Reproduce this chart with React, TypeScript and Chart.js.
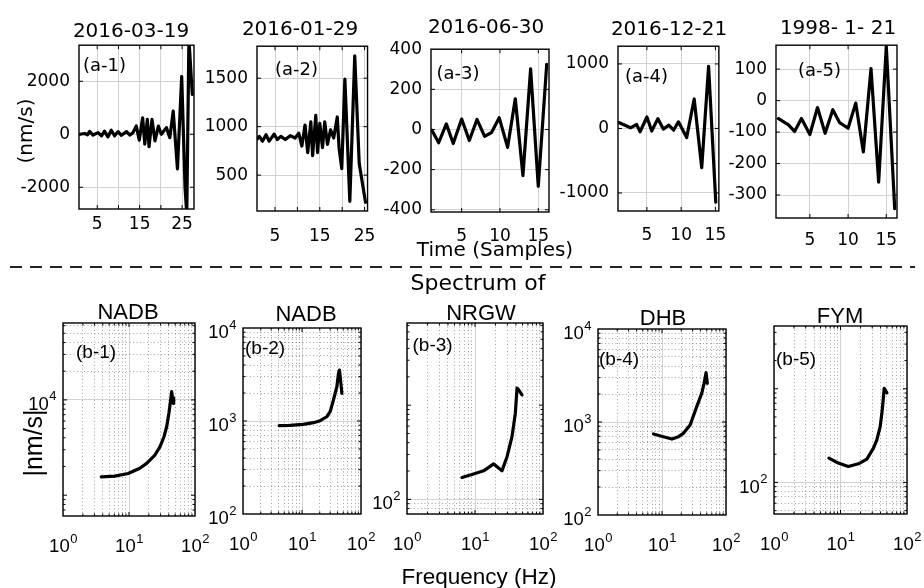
import React, { useEffect, useRef } from 'react';
import { Chart, registerables } from 'chart.js';

Chart.register(...registerables);

// ---------------- data: top row, time series (nm/s) ----------------
const a1Time = [1.0, 2.0, 2.7, 3.2, 4.0, 5.2, 6.0, 6.7, 7.5, 8.3, 9.1, 9.9, 10.7, 11.9, 12.7, 13.4, 14.2, 14.9, 15.7, 16.2, 16.8, 17.2, 17.9, 18.6, 19.4, 20.1, 21.3, 22.1, 22.9, 23.9, 24.9, 25.7, 26.1, 26.6, 27.4];
const a1Vel = [0, 30, -20, 110, -30, 60, -60, 120, -100, 150, -60, 100, -40, 100, -30, 60, 310, -220, 620, -370, 560, -470, 560, -250, 310, 0, 250, -130, 870, -1310, 2180, -2050, -3000, 3600, 1500];

const a2Time = [1.0, 1.5, 2.2, 3.0, 3.7, 4.8, 5.5, 6.3, 7.3, 8.4, 9.5, 10.3, 11.0, 11.7, 12.3, 13.0, 13.4, 14.1, 14.5, 15.0, 15.6, 16.1, 16.7, 17.4, 18.1, 18.9, 19.3, 19.9, 20.6, 21.7, 22.8, 23.8, 25.2];
const a2Vel = [873, 900, 850, 917, 850, 923, 867, 900, 867, 907, 883, 933, 800, 1017, 733, 1050, 700, 1117, 733, 1033, 783, 1050, 817, 967, 883, 1100, 783, 567, 1490, 230, 1730, 620, 220];

const a3Time = [1.1, 2.0, 3.0, 3.9, 5.0, 6.0, 7.0, 8.0, 8.9, 9.9, 11.0, 12.0, 13.0, 14.0, 15.0, 16.1];
const a3Vel = [-3, -66, 28, -70, 52, -55, 50, -34, -15, 59, -89, 153, -230, 302, -284, 325];

const a4Time = [0.9, 2.6, 3.5, 4.0, 5.0, 5.7, 6.6, 7.4, 8.2, 8.9, 9.6, 10.8, 11.9, 13.0, 14.0, 15.05];
const a4Vel = [91, 10, 61, -51, 178, -41, 152, -10, 51, -25, 102, -142, 457, -609, 964, -1142];

const a5Time = [0.9, 2.2, 3.0, 3.9, 5.0, 6.0, 7.0, 8.0, 8.9, 10.0, 11.0, 12.0, 13.0, 14.0, 15.0, 16.1];
const a5Vel = [-57, -77, -98, -57, -108, -22, -104, -29, -70, -88, -8, -163, 102, -259, 172, -343];

const topTitles = ['2016-03-19', '2016-01-29', '2016-06-30', '2016-12-21', '1998- 1- 21'];
const topTags = ['(a-1)', '(a-2)', '(a-3)', '(a-4)', '(a-5)'];

const xTicksLong = [5, 10, 15, 20, 25];
const xLabelsLong = [5, 15, 25];
const xTicksShort = [5, 10, 15];
const xLabelsShort = [5, 10, 15];

const a1YTicks = [-2000, 0, 2000];
const a2YTicks = [500, 1000, 1500];
const a3YTicks = [-400, -200, 0, 200, 400];
const a4YTicks = [-1000, 0, 1000];
const a5YTicks = [-300, -200, -100, 0, 100];

// ---------------- data: bottom row, spectra |nm/s| vs Hz ----------------
const b1Freq = [3.8, 6.1, 9.7, 14.6, 18.5, 24.7, 29.4, 33.8, 37.2, 40.3, 42.8, 44.3, 46.8, 47.5];
const b1Amp = [1560, 1585, 1690, 1920, 2160, 2640, 3220, 4080, 5230, 7300, 10000, 12200, 9200, 10500];

const b2Freq = [4.1, 6.25, 10.5, 15.6, 20.3, 26.3, 30, 34.1, 39, 41.6, 43.2, 45.6, 47.4];
const b2Amp = [890, 899, 921, 959, 1007, 1111, 1259, 1683, 2339, 3260, 3530, 2540, 1986];

const b3Freq = [6.44, 9.53, 13.4, 18.8, 21.1, 24.9, 29.6, 35, 39.2, 41.5, 43.8, 49.1];
const b3Amp = [171, 186, 201, 238, 222, 201, 284, 464, 822, 1517, 1455, 1288];

const b4Freq = [7.36, 10.5, 14.3, 18.1, 21.6, 27.5, 34.9, 41.8, 45.4, 48.8, 51.1];
const b4Amp = [743, 695, 656, 695, 755, 929, 1462, 2036, 2607, 3388, 2607];

const b5Freq = [6.7, 9.27, 13.1, 18.6, 24.9, 31.3, 35.2, 39.5, 41.9, 44.3, 45.4, 49.9];
const b5Amp = [182, 161, 148, 158, 177, 232, 284, 394, 547, 822, 1009, 906];

const bottomTitles = ['NADB', 'NADB', 'NRGW', 'DHB', 'FYM'];
const bottomTags = ['(b-1)', '(b-2)', '(b-3)', '(b-4)', '(b-5)'];

const freqLabels = [1, 10, 100];
const b1YLabels = [10000];
const b2YLabels = [100, 1000, 10000];
const b3YLabels = [100];
const b4YLabels = [100, 1000, 10000];
const b5YLabels = [100];

// ---------------- styling / layout ----------------
const TOP_FONT = '"DejaVu Sans", sans-serif';
const BOT_FONT = '"Liberation Sans", Arial, sans-serif';
const YW = 80;
const PT = 16;
const PR = 22;
const XH = 52;
const GRID_MAJOR = '#d2d2d2';
const GRID_MINOR = 'rgba(90,90,90,0.55)';

type Box = { l: number; t: number; r: number; b: number };

function isDecade(v: number) {
  const l = Math.log10(v);
  return Math.abs(l - Math.round(l)) < 1e-9;
}
function logTicks(min: number, max: number) {
  const out: number[] = [];
  for (let k = Math.floor(Math.log10(min)); k <= Math.ceil(Math.log10(max)); k++) {
    for (let m = 1; m <= 9; m++) {
      const v = Number((m * Math.pow(10, k)).toPrecision(12));
      if (v >= min * (1 - 1e-9) && v <= max * (1 + 1e-9)) out.push(v);
    }
  }
  return out;
}

const boxPlugin = {
  id: 'matlabBox',
  afterDatasetsDraw(chart: any) {
    const { ctx, chartArea: a } = chart;
    ctx.save();
    ctx.strokeStyle = '#000';
    ctx.lineWidth = 1;
    ['x', 'y'].forEach((id) => {
      const s = chart.scales[id];
      s.ticks.forEach((t: any) => {
        const p = s.getPixelForValue(t.value);
        const major = s.type !== 'logarithmic' || isDecade(t.value);
        const len = major ? 4 : 2.5;
        ctx.beginPath();
        if (id === 'x') {
          if (p <= a.left + 0.5 || p >= a.right - 0.5) return;
          ctx.moveTo(p, a.bottom); ctx.lineTo(p, a.bottom - len);
          ctx.moveTo(p, a.top); ctx.lineTo(p, a.top + len);
        } else {
          if (p <= a.top + 0.5 || p >= a.bottom - 0.5) return;
          ctx.moveTo(a.left, p); ctx.lineTo(a.left + len, p);
          ctx.moveTo(a.right, p); ctx.lineTo(a.right - len, p);
        }
        ctx.stroke();
      });
    });
    ctx.lineWidth = 1.4;
    ctx.strokeRect(a.left, a.top, a.right - a.left, a.bottom - a.top);
    ctx.restore();
  },
};

// Draws "10" with a raised exponent at the positions of the log scales' ticks.
const powLabelPlugin = {
  id: 'powLabels',
  afterDraw(chart: any, _args: any, opts: any) {
    const { ctx, chartArea: a } = chart;
    const big = '18.5px ' + BOT_FONT;
    const small = '13px ' + BOT_FONT;
    ctx.save();
    ctx.fillStyle = '#000';
    ctx.textBaseline = 'middle';
    ctx.textAlign = 'left';
    const draw = (v: number, cx: number, cy: number, anchor: 'center' | 'right') => {
      const exp = String(Math.round(Math.log10(v)));
      ctx.font = big;
      const w1 = ctx.measureText('10').width;
      ctx.font = small;
      const w2 = ctx.measureText(exp).width;
      const x0 = anchor === 'center' ? cx - (w1 + w2) / 2 : cx - (w1 + w2);
      ctx.font = big;
      ctx.fillText('10', x0, cy);
      ctx.font = small;
      ctx.fillText(exp, x0 + w1 + 0.5, cy - 8);
    };
    const sx = chart.scales.x;
    (opts.x || []).forEach((v: number) => draw(v, sx.getPixelForValue(v), a.bottom + 31, 'center'));
    const sy = chart.scales.y;
    (opts.y || []).forEach((v: number) => draw(v, a.left - 7, sy.getPixelForValue(v) + 5, 'right'));
    ctx.restore();
  },
};

function topConfig(xs: number[], ys: number[], xr: number[], yr: number[], xTicks: number[], xLabels: number[], yTicks: number[], xPad: number) {
  return {
    type: 'line',
    data: {
      datasets: [{
        data: xs.map((x, i) => ({ x, y: ys[i] })),
        borderColor: '#000',
        borderWidth: 3.2,
        pointRadius: 0,
        tension: 0,
        clip: 0,
        borderJoinStyle: 'round',
        borderCapStyle: 'round',
      }],
    },
    options: {
      responsive: false,
      animation: false,
      devicePixelRatio: 1,
      events: [],
      layout: { padding: { top: PT, right: PR, left: 0, bottom: 0 } },
      plugins: { legend: { display: false }, tooltip: { enabled: false } },
      scales: {
        x: {
          type: 'linear', bounds: 'data', min: xr[0], max: xr[1],
          afterBuildTicks: (s: any) => { s.ticks = xTicks.map((v) => ({ value: v })); },
          afterFit: (s: any) => { s.height = XH; },
          grid: { color: GRID_MAJOR, lineWidth: 1, drawTicks: false },
          border: { display: false },
          ticks: {
            autoSkip: false, maxRotation: 0, padding: xPad, color: '#000',
            font: { family: TOP_FONT, size: 17 },
            callback: (v: number) => (xLabels.includes(v) ? String(v) : ''),
          },
        },
        y: {
          type: 'linear', bounds: 'data', min: yr[0], max: yr[1],
          afterBuildTicks: (s: any) => { s.ticks = yTicks.map((v) => ({ value: v })); },
          afterFit: (s: any) => { s.width = YW; },
          grid: { color: GRID_MAJOR, lineWidth: 1, drawTicks: false },
          border: { display: false },
          ticks: {
            autoSkip: false, padding: 9, color: '#000',
            font: { family: TOP_FONT, size: 17 },
            callback: (v: number) => String(v),
          },
        },
      },
    },
    plugins: [boxPlugin],
  };
}

function bottomConfig(fs: number[], as: number[], yr: number[], yLabels: number[], yMajor: number[], yMinor: number[]) {
  const xTicks = logTicks(1, 100);
  const yTicks = logTicks(yr[0], yr[1]);
  const xColor = (ctx: any) => {
    const v = ctx.tick ? ctx.tick.value : null;
    if (v == null) return 'transparent';
    return isDecade(v) ? GRID_MAJOR : GRID_MINOR;
  };
  const yColor = (ctx: any) => {
    const v = ctx.tick ? ctx.tick.value : null;
    if (v == null) return 'transparent';
    if (isDecade(v)) return yMajor.includes(v) ? GRID_MAJOR : 'transparent';
    return v > yMinor[0] && v < yMinor[1] ? GRID_MINOR : 'transparent';
  };
  const dash = (ctx: any) => (ctx.tick && !isDecade(ctx.tick.value) ? [1, 2.5] : []);
  return {
    type: 'line',
    data: {
      datasets: [{
        data: fs.map((x, i) => ({ x, y: as[i] })),
        borderColor: '#000',
        borderWidth: 3.2,
        pointRadius: 0,
        tension: 0,
        clip: 0,
        borderJoinStyle: 'round',
        borderCapStyle: 'round',
      }],
    },
    options: {
      responsive: false,
      animation: false,
      devicePixelRatio: 1,
      events: [],
      layout: { padding: { top: PT, right: PR, left: 0, bottom: 0 } },
      plugins: {
        legend: { display: false },
        tooltip: { enabled: false },
        powLabels: { x: freqLabels, y: yLabels },
      },
      scales: {
        x: {
          type: 'logarithmic', bounds: 'data', min: 1, max: 100,
          afterBuildTicks: (s: any) => { s.ticks = xTicks.map((v) => ({ value: v })); },
          afterFit: (s: any) => { s.height = XH; },
          grid: { color: xColor, lineWidth: 1, drawTicks: false },
          border: { display: false, dash },
          ticks: { display: false, autoSkip: false },
        },
        y: {
          type: 'logarithmic', bounds: 'data', min: yr[0], max: yr[1],
          afterBuildTicks: (s: any) => { s.ticks = yTicks.map((v) => ({ value: v })); },
          afterFit: (s: any) => { s.width = YW; },
          grid: { color: yColor, lineWidth: 1, drawTicks: false },
          border: { display: false, dash },
          ticks: { display: false, autoSkip: false },
        },
      },
    },
    plugins: [boxPlugin, powLabelPlugin],
  };
}

function ChartCanvas({ box, make }: { box: Box; make: () => any }) {
  const ref = useRef<HTMLCanvasElement>(null);
  const w = box.r - box.l + YW + PR;
  const h = box.b - box.t + PT + XH;
  useEffect(() => {
    const chart = new Chart(ref.current as HTMLCanvasElement, make());
    return () => chart.destroy();
  }, []);
  return (
    <canvas
      ref={ref}
      width={w}
      height={h}
      style={{ position: 'absolute', left: box.l - YW, top: box.t - PT, width: w + 'px', height: h + 'px' }}
    />
  );
}

function Txt({ x, y, text, font, size, left = false, rotate = 0 }: { x: number; y: number; text: string; font: string; size: number; left?: boolean; rotate?: number }) {
  return (
    <div
      style={{
        position: 'absolute', left: x, top: y,
        transform: `translate(${left ? '0' : '-50%'}, -50%) rotate(${rotate}deg)`,
        fontFamily: font, fontSize: size, lineHeight: 1, whiteSpace: 'pre', color: '#000',
      }}
    >
      {text}
    </div>
  );
}

const topBoxes: Box[] = [
  { l: 79, t: 42, r: 194, b: 209 },
  { l: 257, t: 43, r: 369, b: 211 },
  { l: 431, t: 46, r: 549, b: 212 },
  { l: 618, t: 43, r: 719, b: 211 },
  { l: 776, t: 42, r: 897, b: 218 },
];
const bottomBoxes: Box[] = [
  { l: 63, t: 323, r: 195, b: 516 },
  { l: 243, t: 328, r: 361, b: 514 },
  { l: 407, t: 323, r: 543, b: 514 },
  { l: 598, t: 329, r: 726, b: 515 },
  { l: 774, t: 326, r: 907, b: 514 },
];

const topMakers = [
  () => topConfig(a1Time, a1Vel, [0.7, 27.8], [-2820, 3360], xTicksLong, xLabelsLong, a1YTicks, 5),
  () => topConfig(a2Time, a2Vel, [0.98, 25.66], [130, 1830], xTicksLong, xLabelsLong, a2YTicks, 15),
  () => topConfig(a3Time, a3Vel, [1.0, 16.4], [-411, 400], xTicksShort, xLabelsShort, a3YTicks, 14.5),
  () => topConfig(a4Time, a4Vel, [0.78, 15.5], [-1280, 1275], xTicksShort, xLabelsShort, a4YTicks, 14),
  () => topConfig(a5Time, a5Vel, [0.57, 16.4], [-373, 176], xTicksShort, xLabelsShort, a5YTicks, 12),
];
const bottomMakers = [
  () => bottomConfig(b1Freq, b1Amp, [605, 64100], b1YLabels, [10000], [10000, 1e9]),
  () => bottomConfig(b2Freq, b2Amp, [100, 10000], b2YLabels, [1000], [0, 1e9]),
  () => bottomConfig(b3Freq, b3Amp, [70, 7450], b3YLabels, [100], [0, 100]),
  () => bottomConfig(b4Freq, b4Amp, [100, 10000], b4YLabels, [1000], [0, 1e9]),
  () => bottomConfig(b5Freq, b5Amp, [46, 4680], b5YLabels, [100], [0, 100]),
];

const topTitlePos = [[131, 30], [300, 27.5], [486, 26], [669, 28], [838, 27]];
const topTagPos = [[83, 64.5], [275, 69], [436.5, 72.5], [625, 76], [798, 70]];
const bottomTitlePos = [[128, 311.5], [306, 314], [481, 313], [663, 317.5], [840, 316]];
const bottomTagPos = [[76, 351], [245, 346.5], [412.5, 344], [599, 357.5], [776, 358]];

export default function App() {
  return (
    <div style={{ position: 'fixed', left: 0, top: 0, width: 924, height: 588, background: '#fff', overflow: 'hidden' }}>
      {topBoxes.map((b, i) => <ChartCanvas key={'t' + i} box={b} make={topMakers[i]} />)}
      {bottomBoxes.map((b, i) => <ChartCanvas key={'b' + i} box={b} make={bottomMakers[i]} />)}

      {topTitles.map((t, i) => <Txt key={'tt' + i} x={topTitlePos[i][0]} y={topTitlePos[i][1]} text={t} font={TOP_FONT} size={20} />)}
      {topTags.map((t, i) => <Txt key={'tg' + i} x={topTagPos[i][0]} y={topTagPos[i][1]} text={t} font={TOP_FONT} size={18} left />)}
      {bottomTitles.map((t, i) => <Txt key={'bt' + i} x={bottomTitlePos[i][0]} y={bottomTitlePos[i][1]} text={t} font={BOT_FONT} size={22} />)}
      {bottomTags.map((t, i) => <Txt key={'bg' + i} x={bottomTagPos[i][0]} y={bottomTagPos[i][1]} text={t} font={BOT_FONT} size={19} left />)}

      <Txt x={24.5} y={131} text="(nm/s)" font={TOP_FONT} size={20} rotate={-90} />
      <Txt x={32.5} y={443} text="|nm/s|" font={BOT_FONT} size={25} rotate={-90} />
      <Txt x={495} y={249} text="Time (Samples)" font={TOP_FONT} size={20} />
      <Txt x={478} y={283} text="Spectrum of" font={TOP_FONT} size={22} />
      <Txt x={479} y={577} text="Frequency (Hz)" font={BOT_FONT} size={22.5} />

      <div
        style={{
          position: 'absolute', left: 10, top: 266, width: 905, height: 1.5,
          background: 'repeating-linear-gradient(to right, #222 0px, #222 12px, transparent 12px, transparent 20px)',
        }}
      />
    </div>
  );
}
